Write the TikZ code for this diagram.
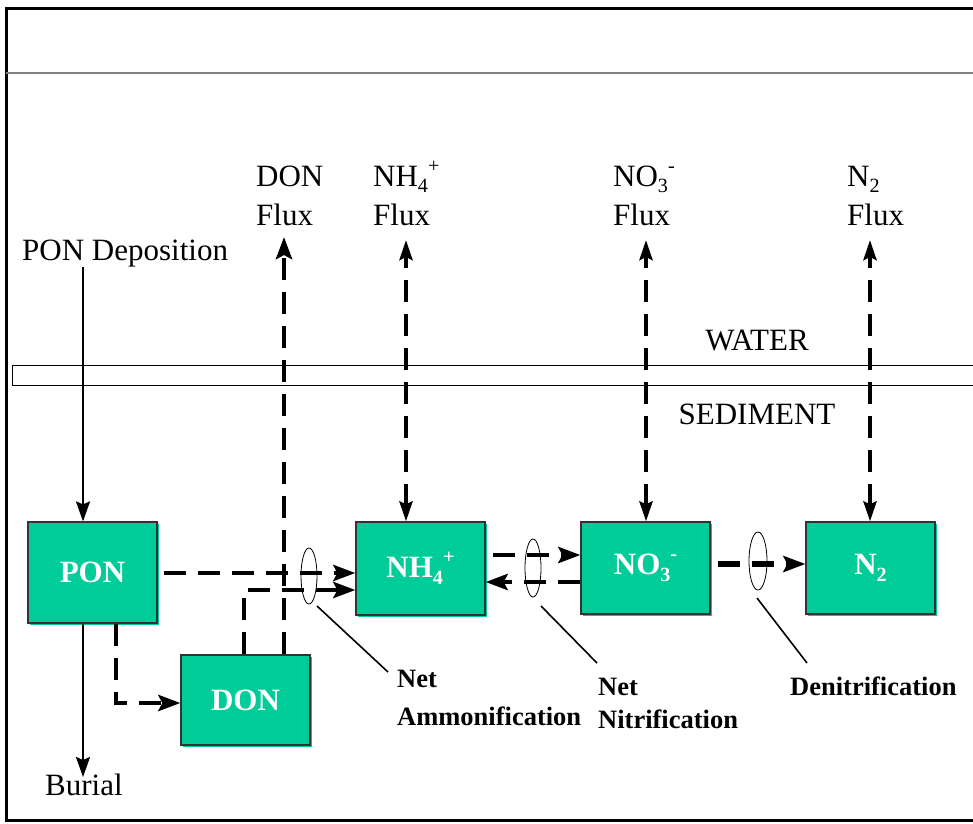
\documentclass[tikz,border=0pt]{standalone}
\usepackage{fontspec}
\setmainfont{Liberation Serif}
\usetikzlibrary{arrows.meta,shadows,shapes.geometric}
\definecolor{boxgreen}{RGB}{0,204,153}
\newcommand\dn[1]{\raisebox{-0.22em}{\scalebox{0.65}{#1}}}
\newcommand\up[1]{\raisebox{0.45em}{\scalebox{0.65}{#1}}}
\newcommand\twol[3]{{\renewcommand\arraystretch{1}\begin{tabular}[t]{@{}l@{}}#2\\[#1]#3\end{tabular}}}
\tikzset{
 box/.style={draw=black!80, line width=1.2pt, fill=boxgreen, minimum width=129pt, inner sep=0pt,
   text=white, font=\bfseries\fontsize{31}{36}\selectfont,
   general shadow={fill=boxgreen, shadow xshift=2pt, shadow yshift=-2pt}},
 lbl/.style={inner sep=0pt, font=\fontsize{31}{36}\selectfont},
 blbl/.style={inner sep=0pt, font=\bfseries\fontsize{26.5}{30}\selectfont},
 sarrow/.style={line width=2.2pt, -{Stealth[length=20pt,width=14pt,inset=3pt]}},
 darrow/.style={line width=4.5pt, dash pattern=on 22pt off 12pt, -{Stealth[length=22pt,width=16pt,inset=4pt]}},
 dflux/.style={line width=4pt, dash pattern=on 22pt off 12pt,
   {Stealth[length=20pt,width=13pt,inset=3pt]}-{Stealth[length=20pt,width=13pt,inset=3pt]}},
 ell/.style={draw, ellipse, line width=0.8pt, inner sep=0pt},
 leader/.style={line width=1.6pt},
}
\begin{document}
\begin{tikzpicture}[x=1pt,y=-1pt]
\useasboundingbox (0,0) rectangle (973,823);
% frame
\draw[line width=3pt] (4.5,8) -- (980,8);
\draw[line width=3pt] (6,6.5) -- (6,821.5);
\draw[line width=3pt] (4.5,820) -- (980,820);
\draw[gray, line width=1.5pt] (6,73) -- (980,73);
% water/sediment band
\draw[line width=1pt] (12,365) rectangle (985,385);
\node[lbl, anchor=base] (water) at (757,350) {WATER};
\node[lbl, anchor=base] (sed) at (757,424) {SEDIMENT};
% boxes
\node[box, minimum height=101pt] (PON) at (92.5,572.5) {PON};
\node[box, minimum height=90pt] (DON) at (245.5,700) {DON\hspace{24pt}};
\node[box, minimum height=93pt] (NH4) at (420.5,568.5) {NH\dn{4}\up{+}\hspace{24pt}};
\node[box, minimum height=92pt] (NO3) at (645.5,568) {NO\dn{3}\up{-}};
\node[box, minimum height=92pt] (N2) at (870.5,568) {N\dn{2}};
% text labels
\node[lbl, anchor=base west] (dep) at (22,260) {PON Deposition};
\node[lbl, anchor=base west] (bur) at (45,795) {Burial};
\node[lbl, anchor=base west] (donf) at (256,186) {\twol{3pt}{DON}{Flux}};
\node[lbl, anchor=base west] (nh4f) at (373,186) {\twol{3pt}{NH\dn{4}\up{+}}{Flux}};
\node[lbl, anchor=base west] (no3f) at (613,186) {\twol{3pt}{NO\dn{3}\up{-}}{Flux}};
\node[lbl, anchor=base west] (n2f) at (847,186) {\twol{3pt}{N\dn{2}}{Flux}};
% flux arrow ends
\coordinate (tdon) at (284,237);
\coordinate (tnh4) at (406,240);
\coordinate (tno3) at (646,240);
\coordinate (tn2) at (870,240);
% solid arrows
\draw[sarrow] (83,267) -- (PON.north -| 83,0);
\draw[sarrow] (PON.south -| 83,0) -- (83,777);
% dashed arrows
\draw[darrow] (PON.south -| 116,0) |- (DON.west |- 0,703);
\draw[darrow] ([xshift=6pt]PON.east |- 0,573) -- (NH4.west |- 0,573);
\draw[darrow] (DON.north -| 244,0) |- (NH4.west |- 0,590);
\draw[darrow] (DON.north -| 284,0) -- (tdon);
\draw[dflux] (NH4.north -| 406,0) -- (tnh4);
\draw[dflux] (NO3.north -| 646,0) -- (tno3);
\draw[dflux] (N2.north -| 870,0) -- (tn2);
\draw[darrow] ([xshift=7pt]NH4.east |- 0,555) -- (NO3.west |- 0,555);
\draw[darrow] (NO3.west |- 0,582) -- (NH4.east |- 0,582);
\draw[darrow, line width=6.5pt] ([xshift=7pt]NO3.east |- 0,564) -- (N2.west |- 0,564);
% process ellipses
\node[ell, minimum width=16pt, minimum height=56pt] (e1) at (309,576) {};
\node[ell, minimum width=16pt, minimum height=58pt] (e2) at (533,568) {};
\node[ell, minimum width=18pt, minimum height=58pt] (e3) at (758,561) {};
% process labels
\node[blbl, anchor=base west] (amm) at (397,687) {\twol{8pt}{Net}{Ammonification}};
\node[blbl, anchor=base west] (nit) at (598,695) {\twol{3pt}{Net}{Nitrification}};
\node[blbl, anchor=base west] (den) at (790,695) {Denitrification};
% leaders
\coordinate (l1a) at (317,606); \coordinate (l1b) at (388,672);
\coordinate (l2a) at (541,606); \coordinate (l2b) at (597,663);
\coordinate (l3a) at (757,598); \coordinate (l3b) at (807,663);
\draw[leader] (l1a) -- (l1b);
\draw[leader] (l2a) -- (l2b);
\draw[leader] (l3a) -- (l3b);
\end{tikzpicture}
\end{document}
